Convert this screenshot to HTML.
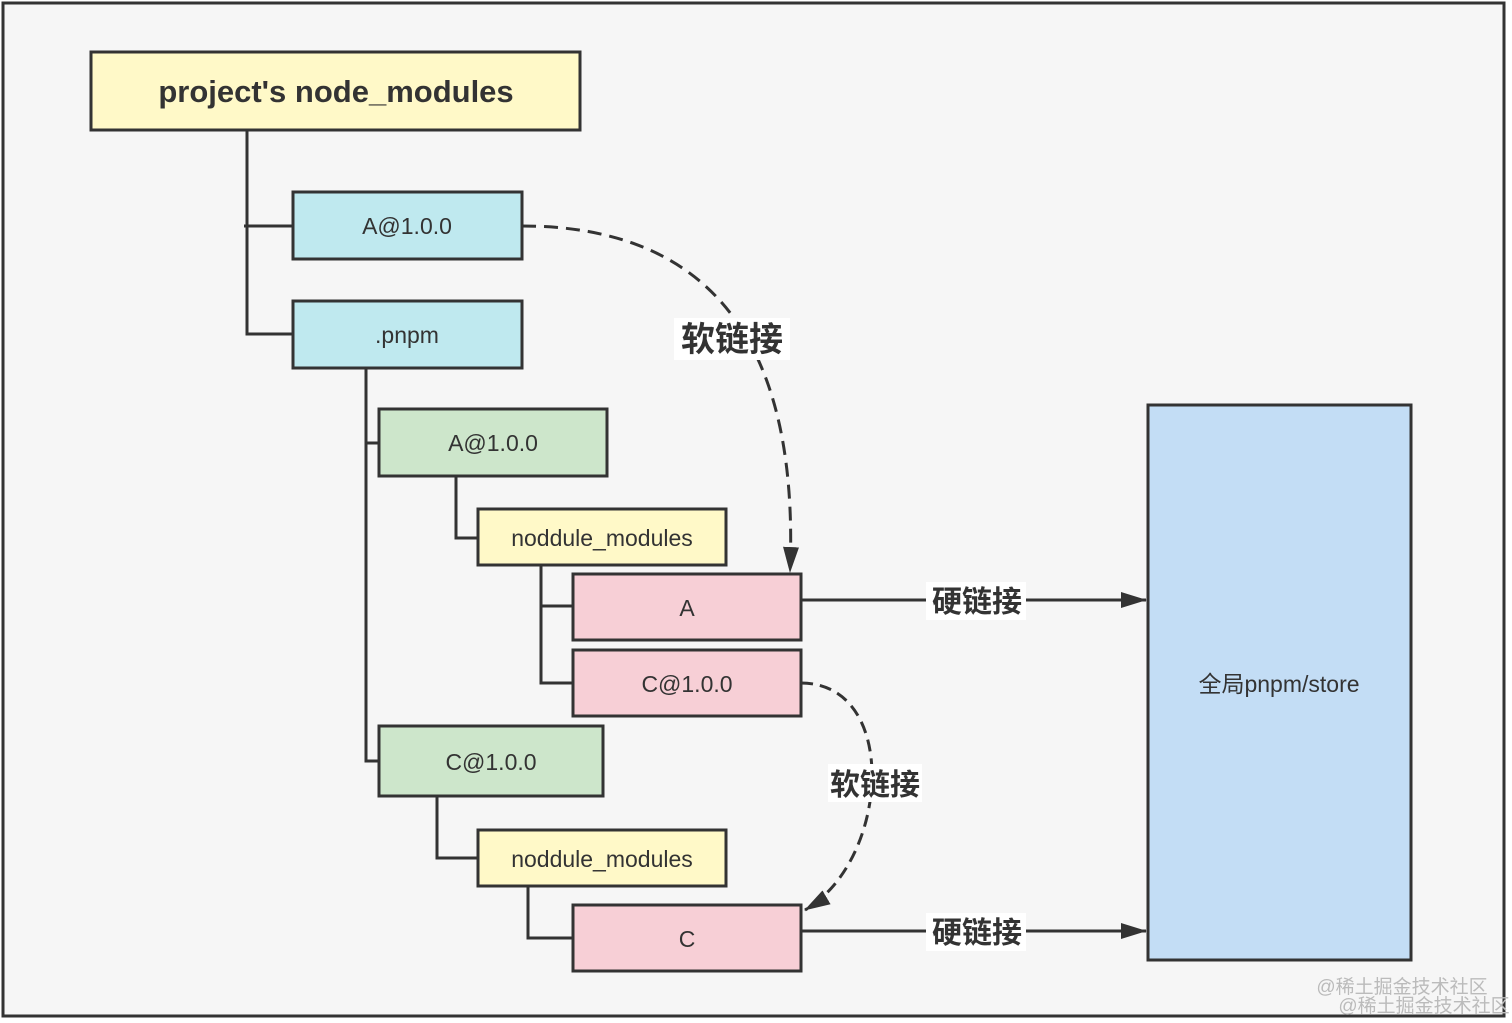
<!DOCTYPE html>
<html><head><meta charset="utf-8"><style>
html,body{margin:0;padding:0;background:#fff;}
svg{display:block;}
text{font-family:"Liberation Sans","Noto Sans CJK SC",sans-serif;fill:#333;}
</style></head><body>
<svg width="1512" height="1023" viewBox="0 0 1512 1023" xmlns="http://www.w3.org/2000/svg">
<defs>
<marker id="ah2" markerWidth="26" markerHeight="16" refX="25" refY="8" orient="auto" markerUnits="userSpaceOnUse">
<path d="M0,0 L26,8 L0,16 Z" fill="#333"/></marker>
</defs>
<rect x="3" y="3" width="1501" height="1013" fill="#f6f6f6" stroke="#333" stroke-width="3"/>
<g stroke="#333" stroke-width="3" fill="none">
<path d="M247,130 V334 H293 M244,226 H293"/>
<path d="M366,368 V761 H379 M366,443 H379"/>
<path d="M456,476 V538 H478"/>
<path d="M541,565 V683 H573 M541,606 H573"/>
<path d="M437,796 V858 H478"/>
<path d="M528,886 V938 H573"/>
</g>
<g stroke="#333" stroke-width="3">
<rect x="91" y="52" width="489" height="78" fill="#fff9c8"/>
<rect x="293" y="192" width="229" height="67" fill="#bfe9ef"/>
<rect x="293" y="301" width="229" height="67" fill="#bfe9ef"/>
<rect x="379" y="409" width="228" height="67" fill="#cde6cb"/>
<rect x="478" y="509" width="248" height="56" fill="#fff9c8"/>
<rect x="573" y="574" width="228" height="66" fill="#f7cfd6"/>
<rect x="573" y="650" width="228" height="66" fill="#f7cfd6"/>
<rect x="379" y="726" width="224" height="70" fill="#cde6cb"/>
<rect x="478" y="830" width="248" height="56" fill="#fff9c8"/>
<rect x="573" y="905" width="228" height="66" fill="#f7cfd6"/>
<rect x="1148" y="405" width="263" height="555" fill="#c3ddf5"/>
</g>
<g font-size="23" text-anchor="middle">
<text x="336" y="102" font-size="31" font-weight="bold">project's node_modules</text>
<text x="407" y="234">A@1.0.0</text>
<text x="407" y="343">.pnpm</text>
<text x="493" y="451">A@1.0.0</text>
<text x="602" y="546">noddule_modules</text>
<text x="687" y="616">A</text>
<text x="687" y="692">C@1.0.0</text>
<text x="491" y="770">C@1.0.0</text>
<text x="602" y="867">noddule_modules</text>
<text x="687" y="947">C</text>
<text x="1279" y="692">全局pnpm/store</text>
</g>
<g stroke="#333" stroke-width="3" fill="none">
<path d="M801,600 H1146" marker-end="url(#ah2)"/>
<path d="M801,931 H1146" marker-end="url(#ah2)"/>
<path d="M522,226 C700,226 800,330 790,572" stroke-dasharray="14,8" marker-end="url(#ah2)"/>
<path d="M801,683 C900,683 890,860 805,910" stroke-dasharray="12,7" marker-end="url(#ah2)"/>
</g>
<g font-size="30" font-weight="bold" text-anchor="middle">
<rect x="926" y="582" width="100" height="38" fill="#fff"/>
<text x="977" y="612">硬链接</text>
<rect x="926" y="913" width="100" height="38" fill="#fff"/>
<text x="977" y="943">硬链接</text>
<rect x="674" y="318" width="116" height="42" fill="#fff"/>
<text x="732" y="351" font-size="34">软链接</text>
<rect x="828" y="764" width="94" height="38" fill="#fff"/>
<text x="875" y="795">软链接</text>
</g>
<text x="1402" y="993" font-size="19" style="fill:#bbb" text-anchor="middle">@稀土掘金技术社区</text>
<text x="1424" y="1012" font-size="19" style="fill:#bbb" text-anchor="middle">@稀土掘金技术社区</text>
</svg>
</body></html>
